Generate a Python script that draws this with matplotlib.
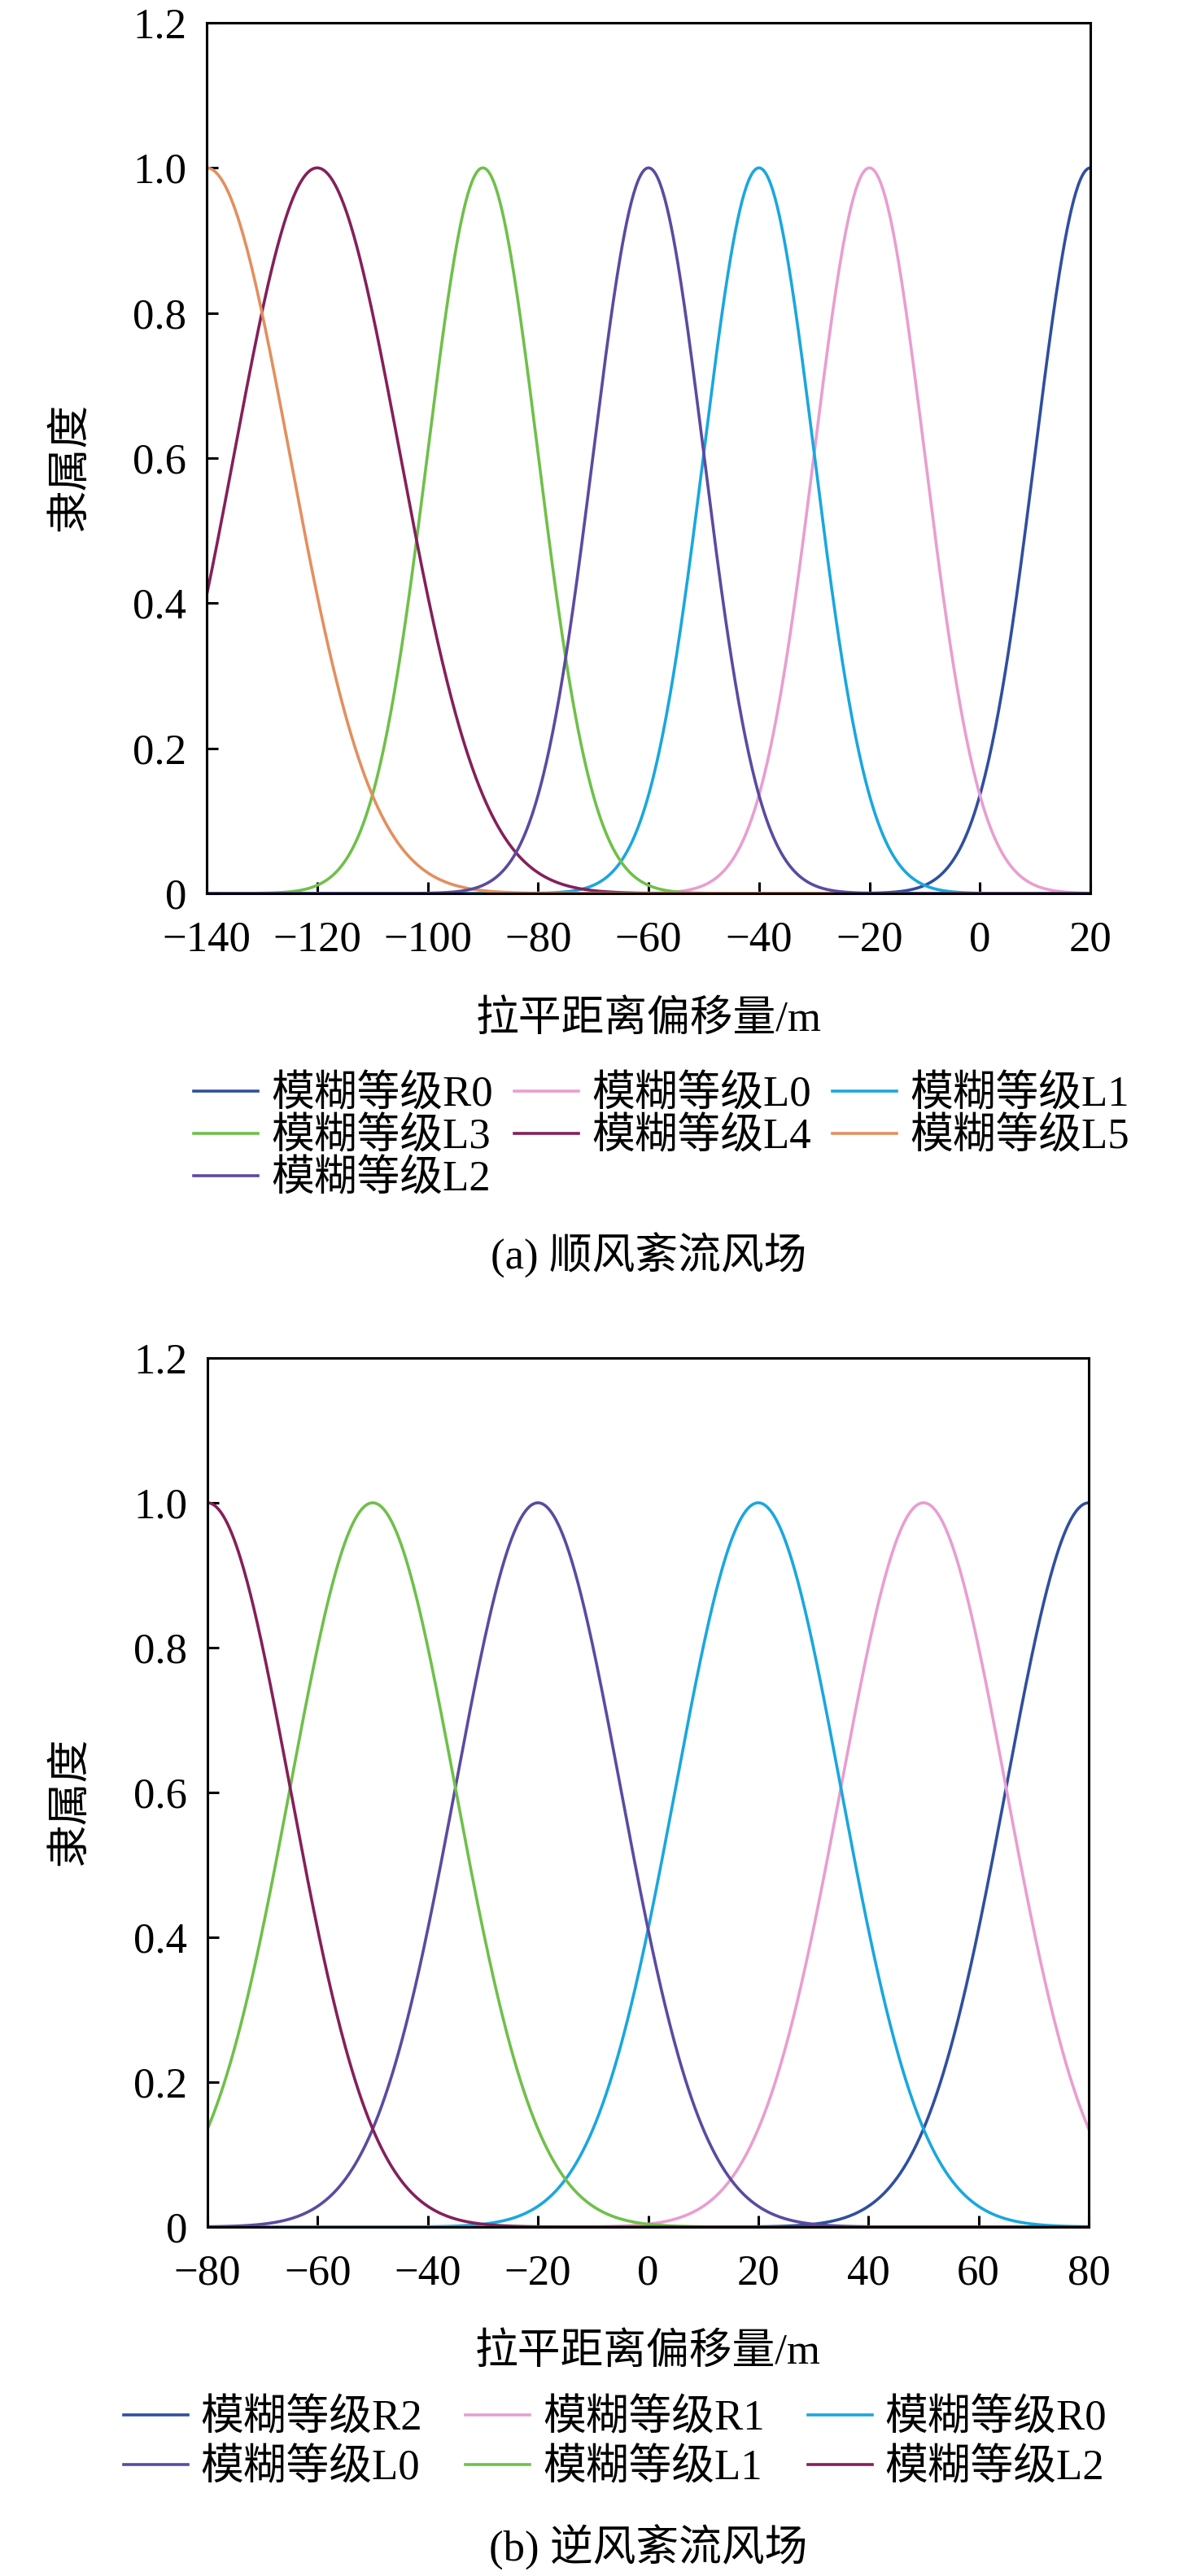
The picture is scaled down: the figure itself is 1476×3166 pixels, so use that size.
import matplotlib
matplotlib.use("Agg")
import matplotlib.pyplot as plt
import numpy as np

plt.rcParams['font.family'] = ['Liberation Serif', 'Noto Sans CJK SC']
plt.rcParams['axes.unicode_minus'] = True

# 隶属函数参数 (中心, 宽度) 从图中读出
# (a) 顺风紊流风场
names_a = ["模糊等级R0", "模糊等级L0", "模糊等级L1", "模糊等级L3",
           "模糊等级L4", "模糊等级L5", "模糊等级L2"]
centers_a = [20, -20, -40, -90, -120, -140, -60]
sigmas_a = [10, 10, 10, 10, 15, 15, 10]
colors_a = ["#2f4f9f", "#e89ed0", "#1aa7de", "#6fc04a",
            "#84205a", "#e2905e", "#5c4aa0"]
xticks_a = [-140, -120, -100, -80, -60, -40, -20, 0, 20]

# (b) 逆风紊流风场
names_b = ["模糊等级R2", "模糊等级R1", "模糊等级R0",
           "模糊等级L0", "模糊等级L1", "模糊等级L2"]
centers_b = [80, 50, 20, -20, -50, -80]
sigmas_b = [15, 15, 15, 15, 15, 15]
colors_b = ["#2f4f9f", "#e89ed0", "#1aa7de", "#5c4aa0", "#6fc04a", "#84205a"]
xticks_b = [-80, -60, -40, -20, 0, 20, 40, 60, 80]

yticks = [0, 0.2, 0.4, 0.6, 0.8, 1.0, 1.2]
ytick_labels = ["0", "0.2", "0.4", "0.6", "0.8", "1.0", "1.2"]

W, H = 1476, 3166
fig = plt.figure(figsize=(W / 200, H / 200), dpi=200)
FS = 19


def panel(rect, names, centers, sigmas, colors, xticks, order, leg_center,
          colspace, rowspace, xlabel_y, caption, caption_y):
    ax = fig.add_axes(rect)
    x = np.linspace(xticks[0], xticks[-1], 800)
    handles = []
    for name, c, s, col in zip(names, centers, sigmas, colors):
        y = np.exp(-(x - c) ** 2 / (2 * s ** 2))
        h, = ax.plot(x, y, color=col, lw=1.3, label=name)
        handles.append(h)
    ax.set_xlim(xticks[0], xticks[-1])
    ax.set_ylim(0, 1.2)
    ax.set_xticks(xticks)
    ax.set_yticks(yticks)
    ax.set_yticklabels(ytick_labels)
    ax.tick_params(direction="in", length=5, width=1.1, labelsize=FS,
                   top=False, right=False)
    ax.tick_params(axis="x", pad=12)
    ax.tick_params(axis="y", pad=9)
    for sp in ax.spines.values():
        sp.set_linewidth(1.1)
    # 坐标轴标题
    mid_x = (rect[0] + rect[2] / 2)
    fig.text(mid_x, 1 - xlabel_y / H, "拉平距离偏移量/m", ha="center",
             va="center", fontsize=FS)
    fig.text(87 / W, rect[1] + rect[3] * 0.49, "隶属度", ha="center",
             va="center", rotation=90, fontsize=FS)
    hs = [handles[i] for i in order]
    fig.legend(hs, [h.get_label() for h in hs], loc="center",
               bbox_to_anchor=(leg_center[0] / W, 1 - leg_center[1] / H),
               ncol=3, frameon=False, fontsize=FS, handlelength=1.5,
               handletextpad=0.3, columnspacing=colspace,
               labelspacing=rowspace, borderpad=0)
    fig.text(mid_x, 1 - caption_y / H, caption, ha="center", va="center",
             fontsize=FS)
    return ax


panel([254 / W, 1 - 1098 / H, 1086 / W, 1070 / H], names_a, centers_a,
      sigmas_a, colors_a, xticks_a, [0, 3, 6, 1, 4, 2, 5], (813, 1398),
      0.5, 0.05, 1253, "(a) 顺风紊流风场", 1543)
panel([255 / W, 1 - 2737 / H, 1083 / W, 1068 / H], names_b, centers_b,
      sigmas_b, colors_b, xticks_b, [0, 3, 1, 4, 2, 5], (756, 3003),
      1.0, 0.22, 2891, "(b) 逆风紊流风场", 3131)

fig.savefig("out.png", dpi=200)
